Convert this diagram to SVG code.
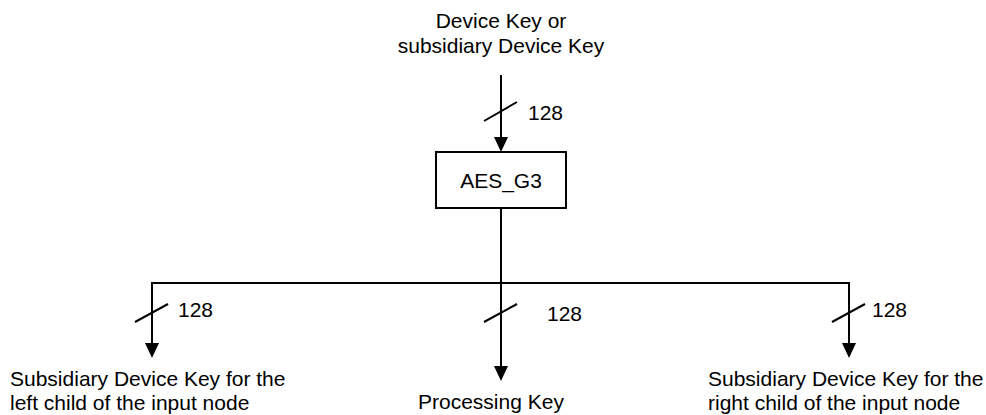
<svg xmlns="http://www.w3.org/2000/svg" width="986" height="415" viewBox="0 0 986 415">
  <style>
    text { font-family: "Liberation Sans", Arial, sans-serif; font-size: 21px; fill: #000; }
    .wire { stroke: #000; stroke-width: 2; fill: none; }
    .box { stroke: #000; stroke-width: 2; fill: #fff; }
    .head { fill: #000; }
  </style>

  <!-- input label -->
  <g id="input">
    <text x="501" y="28" text-anchor="middle">Device Key or</text>
    <text x="501" y="53" text-anchor="middle">subsidiary Device Key</text>
  </g>

  <!-- AES block -->
  <g id="aes">
    <rect class="box" x="436" y="152" width="130" height="56"/>
    <text x="501" y="188" text-anchor="middle">AES_G3</text>
  </g>

  <!-- outputs -->
  <g id="out-left">
    <text x="10" y="386">Subsidiary Device Key for the</text>
    <text x="10" y="410">left child of the input node</text>
  </g>
  <g id="out-mid">
    <text x="418" y="409">Processing Key</text>
  </g>
  <g id="out-right">
    <text x="708" y="386">Subsidiary Device Key for the</text>
    <text x="708" y="410">right child of the input node</text>
  </g>

  <g id="connectors">
    <!-- input to block -->
    <line class="wire" x1="501" y1="75" x2="501" y2="138"/>
    <path class="head" d="M494,137 L508,137 L501,152 Z"/>
    <line class="wire" x1="484" y1="121" x2="517" y2="102"/>
    <text x="528" y="120">128</text>

    <!-- block to bus -->
    <line class="wire" x1="501" y1="208" x2="501" y2="366"/>
    <polyline class="wire" points="152,344 152,283 849,283 849,344"/>

    <!-- left branch -->
    <path class="head" d="M145,343 L159,343 L152,358 Z"/>
    <line class="wire" x1="135" y1="322" x2="168" y2="304"/>
    <text x="178" y="317">128</text>

    <!-- middle branch -->
    <path class="head" d="M494,366 L508,366 L501,381 Z"/>
    <line class="wire" x1="484" y1="322" x2="517" y2="304"/>
    <text x="547" y="321">128</text>

    <!-- right branch -->
    <path class="head" d="M842,343 L856,343 L849,358 Z"/>
    <line class="wire" x1="832" y1="322" x2="865" y2="304"/>
    <text x="872" y="317">128</text>
  </g>
</svg>
